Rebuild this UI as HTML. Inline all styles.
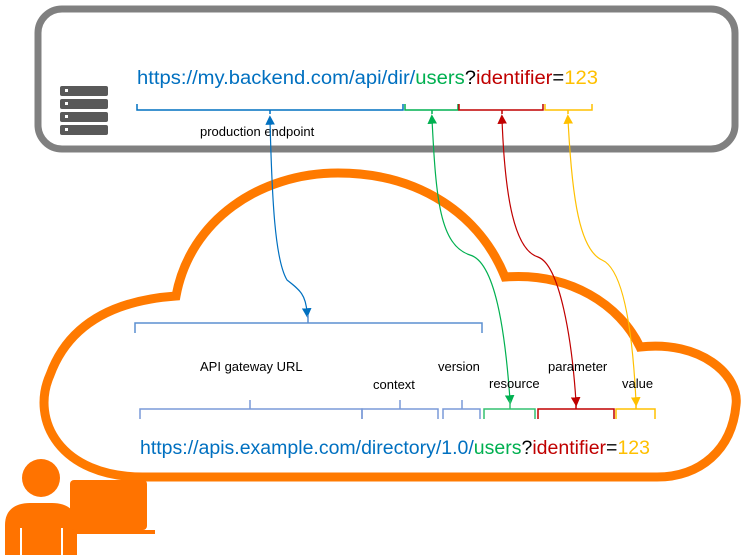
<!DOCTYPE html>
<html><head><meta charset="utf-8"><style>
html,body{margin:0;padding:0;background:#fff;}
svg{display:block;font-family:"Liberation Sans",sans-serif;}
</style></head><body>
<svg width="744" height="555" viewBox="0 0 744 555" xmlns="http://www.w3.org/2000/svg">
<defs>
<marker id="ab" markerWidth="8" markerHeight="8" refX="4" refY="4" orient="auto-start-reverse"><path d="M0,0 L8,4 L0,8 z" fill="#0070C0"/></marker>
<marker id="ag" markerWidth="8" markerHeight="8" refX="4" refY="4" orient="auto-start-reverse"><path d="M0,0 L8,4 L0,8 z" fill="#00B050"/></marker>
<marker id="ar" markerWidth="8" markerHeight="8" refX="4" refY="4" orient="auto-start-reverse"><path d="M0,0 L8,4 L0,8 z" fill="#C00000"/></marker>
<marker id="ay" markerWidth="8" markerHeight="8" refX="4" refY="4" orient="auto-start-reverse"><path d="M0,0 L8,4 L0,8 z" fill="#FFC000"/></marker>
</defs>
<rect x="38" y="9" width="697" height="140" rx="24" fill="#fff" stroke="#808080" stroke-width="7"/>
<g fill="#595959">
<rect x="60" y="86" width="48" height="10" rx="2"/><rect x="60" y="99" width="48" height="10" rx="2"/>
<rect x="60" y="112" width="48" height="10" rx="2"/><rect x="60" y="125" width="48" height="10" rx="2"/>
</g>
<g fill="#fff"><rect x="65" y="89" width="3" height="3"/><rect x="65" y="102" width="3" height="3"/><rect x="65" y="115" width="3" height="3"/><rect x="65" y="128" width="3" height="3"/></g>
<text x="137" y="84" font-size="19" textLength="461" lengthAdjust="spacingAndGlyphs"><tspan fill="#0070C0">https://my.backend.com/api/dir/</tspan><tspan fill="#00B050">users</tspan><tspan fill="#000">?</tspan><tspan fill="#C00000">identifier</tspan><tspan fill="#000">=</tspan><tspan fill="#FFC000">123</tspan></text>
<g fill="none" stroke-width="1.5">
<path d="M137,104 V110 H403 V104 M270,110 V114" stroke="#0070C0"/>
<path d="M405,104 V110 H458 V104 M432,110 V114" stroke="#00B050"/>
<path d="M459,104 V110 H543 V104 M502,110 V114" stroke="#C00000"/>
<path d="M545,104 V110 H592 V104 M568,110 V114" stroke="#FFC000"/>
</g>
<text x="200" y="136" font-size="13" fill="#000">production endpoint</text>
<path d="M143,477 C60,477 30,420 50,375 C70,320 120,300 176,296 C190,220 260,173 338,173 C420,173 480,215 505,277 C570,272 620,305 640,347 C700,340 740,375 736,405 C732,450 700,477 657,477 Z" fill="none" stroke="#FF7A00" stroke-width="9" stroke-linejoin="miter"/>
<g fill="none" stroke-width="1.2">
<path d="M270,120 C272,200 275,260 287,280 C300,290 306,295 307,313" stroke="#0070C0" marker-start="url(#ab)" marker-end="url(#ab)"/>
<path d="M432,119 C436,200 440,245 470,255 C495,262 505,330 510,400" stroke="#00B050" marker-start="url(#ag)" marker-end="url(#ag)"/>
<path d="M502,119 C505,200 515,250 538,257 C560,265 572,340 576,402" stroke="#C00000" marker-start="url(#ar)" marker-end="url(#ar)"/>
<path d="M568,119 C572,200 580,250 602,260 C625,270 633,340 636,402" stroke="#FFC000" marker-start="url(#ay)" marker-end="url(#ay)"/>
</g>
<g fill="none" stroke-width="1.5">
<path d="M135,333 V323 H482 V333 M308,323 V315" stroke="#5B8FD0"/>
<path d="M140,419 V409 H362 V419 M250,409 V400" stroke="#7A9AD8"/>
<path d="M362,419 V409 H438 V419 M400,409 V400" stroke="#7A9AD8"/>
<path d="M443,419 V409 H480 V419 M462,409 V400" stroke="#7A9AD8"/>
<path d="M484,419 V409 H535 V419 M510,409 V400" stroke="#33C070"/>
<path d="M538,419 V409 H614 V419 M576,409 V400" stroke="#C00000"/>
<path d="M616,419 V409 H655 V419 M636,409 V400" stroke="#FFC000"/>
</g>
<g font-size="13" fill="#000">
<text x="200" y="371">API gateway URL</text>
<text x="373" y="389">context</text>
<text x="438" y="371">version</text>
<text x="489" y="388">resource</text>
<text x="548" y="371">parameter</text>
<text x="622" y="388">value</text>
</g>
<text x="140" y="454" font-size="19" textLength="510" lengthAdjust="spacingAndGlyphs"><tspan fill="#0070C0">https://apis.example.com/directory/1.0/</tspan><tspan fill="#00B050">users</tspan><tspan fill="#000">?</tspan><tspan fill="#C00000">identifier</tspan><tspan fill="#000">=</tspan><tspan fill="#FFC000">123</tspan></text>
<g fill="#FF7300">
<circle cx="41" cy="478" r="19"/>
<path d="M5,555 V525 C5,510 15,503 30,503 H52 C67,503 77,510 77,525 V555 Z"/>
<rect x="70" y="480" width="77" height="50" rx="4"/>
<rect x="75" y="530" width="80" height="4"/>
</g>
<g fill="#fff"><rect x="20" y="528" width="2" height="27"/><rect x="61" y="528" width="2" height="27"/></g>
</svg>
</body></html>
